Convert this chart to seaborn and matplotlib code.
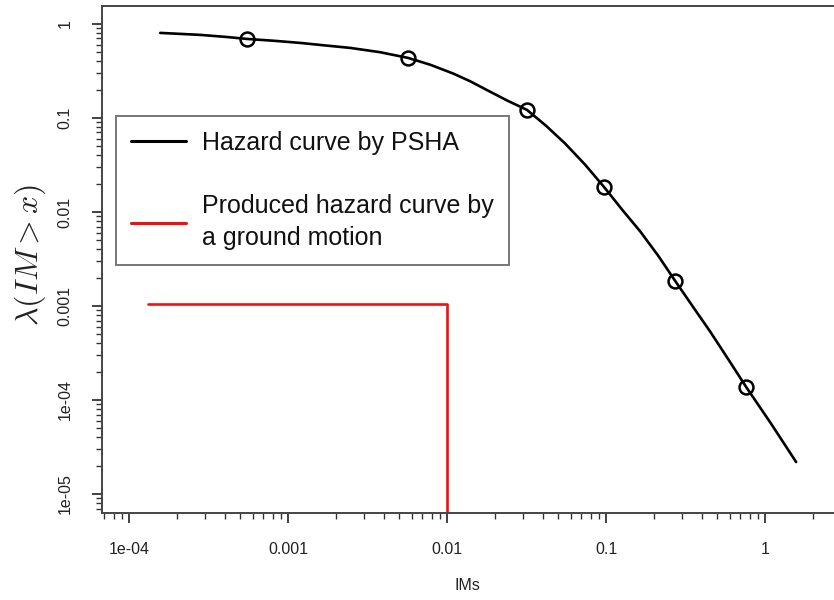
"""Hazard curve by PSHA vs. hazard curve produced by a single ground motion."""

import numpy as np
import matplotlib
matplotlib.use("Agg")
import matplotlib.pyplot as plt
from matplotlib.lines import Line2D
from matplotlib.ticker import FixedLocator, LogLocator, NullFormatter
import seaborn as sns

# hazard curve (IM value, annual rate of exceedance)
curve_im = [1.57e-4, 2.10e-4, 2.80e-4, 4.03e-4, 5.52e-4, 8.28e-4, 1.19e-3, 1.71e-3,
            2.45e-3, 3.79e-3, 5.68e-3, 7.83e-3, 1.09e-2, 1.40e-2, 1.79e-2, 2.39e-2,
            3.18e-2, 4.19e-2, 5.52e-2, 7.36e-2, 9.70e-2, 0.126, 0.164, 0.213, 0.272,
            0.349, 0.451, 0.585, 0.760, 1.09, 1.567]
curve_rate = [0.802, 0.783, 0.764, 0.728, 0.692, 0.660, 0.628, 0.590,
              0.556, 0.500, 0.435, 0.368, 0.297, 0.245, 0.197, 0.153,
              0.1217, 0.0826, 0.0535, 0.0320, 0.01845, 0.0106, 0.00620, 0.00341, 0.001845,
              0.00100, 5.35e-4, 2.73e-4, 1.375e-4, 5.6e-5, 2.19e-5]

# circled points on the curve
point_im = [5.52e-4, 5.68e-3, 3.18e-2, 9.70e-2, 0.272, 0.760]
point_rate = [0.692, 0.435, 0.1217, 0.01845, 0.001845, 1.375e-4]

# step curve produced by one ground motion
gm_im = [1.32e-4, 0.01, 0.01]
gm_rate = [1.05e-3, 1.05e-3, 1e-6]

x_ticks = [1e-4, 1e-3, 1e-2, 1e-1, 1]
x_labels = ["1e-04", "0.001", "0.01", "0.1", "1"]
y_ticks = [1e-5, 1e-4, 1e-3, 1e-2, 1e-1, 1]
y_labels = ["1e-05", "1e-04", "0.001", "0.01", "0.1", "1"]

legend_labels = ["Hazard curve by PSHA", "Produced hazard curve by\na ground motion"]

sns.set_theme(style="ticks")
plt.rcParams["font.family"] = ["Liberation Sans", "DejaVu Sans"]
plt.rcParams["mathtext.fontset"] = "cm"

W, H = 834, 600
fig = plt.figure(figsize=(W / 100, H / 100), dpi=100)
ax = fig.add_axes([102 / W, 87 / H, (845 - 102) / W, (513 - 6) / H])

sns.lineplot(x=curve_im, y=curve_rate, sort=False, estimator=None,
             color="black", linewidth=1.9, ax=ax)
sns.lineplot(x=point_im, y=point_rate, sort=False, estimator=None,
             linestyle="", marker="o", markersize=10, markerfacecolor="none",
             markeredgecolor="black", markeredgewidth=1.8, ax=ax)
sns.lineplot(x=gm_im, y=gm_rate, sort=False, estimator=None,
             color="#f01010", linewidth=1.9, ax=ax)

ax.set_xscale("log")
ax.set_yscale("log")
ax.set_xlim(6.76e-5, 3.18)
ax.set_ylim(6.28e-6, 1.55)

ax.xaxis.set_major_locator(FixedLocator(x_ticks))
ax.set_xticklabels(x_labels)
ax.yaxis.set_major_locator(FixedLocator(y_ticks))
ax.set_yticklabels(y_labels, rotation=90, va="center")
for axis in (ax.xaxis, ax.yaxis):
    axis.set_minor_locator(LogLocator(base=10, subs=np.arange(2, 10), numticks=20))
    axis.set_minor_formatter(NullFormatter())

ax.tick_params(which="major", length=7, width=1.3, color="#333333",
               labelsize=11.5, labelcolor="#222222", pad=14)
ax.tick_params(which="minor", length=4, width=1.0, color="#333333")

for side in ax.spines.values():
    side.set_color("#444444")
    side.set_linewidth(1.4)

ax.set_xlabel("IMs", fontsize=11.5, color="#222222")
ax.xaxis.set_label_coords((467 - 102) / 743, (513 - 585) / 507)
ax.xaxis.label.set_va("center")
ax.set_ylabel(r"$\lambda(IM > x)$", fontsize=23, color="#222222")
ax.yaxis.set_label_coords((30 - 102) / 743, (513 - 255) / 507)
ax.yaxis.label.set_va("center")

handles = [Line2D([], [], color="black", linewidth=2.2),
           Line2D([], [], color="#f01010", linewidth=2.2)]
leg = ax.legend(handles, legend_labels, loc="upper left",
                bbox_to_anchor=(116 / W, 1 - 116 / H), bbox_transform=fig.transFigure,
                borderaxespad=0, fontsize=18, frameon=True, fancybox=False,
                handlelength=2.2, handletextpad=0.65, borderpad=0.6,
                labelspacing=1.55)
leg.get_frame().set_edgecolor("#555555")
leg.get_frame().set_linewidth(1.4)
for txt in leg.get_texts():
    txt.set_color("#111111")
    txt.set_linespacing(1.45)

fig.savefig("out.png", dpi=100)
plt.close(fig)
